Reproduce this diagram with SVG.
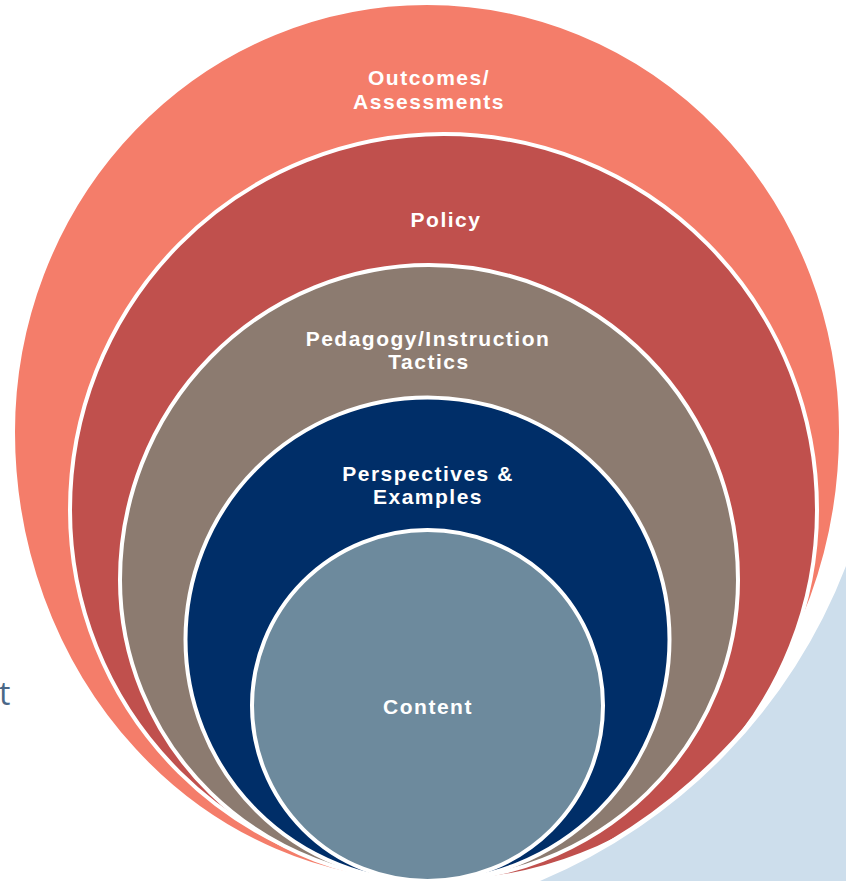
<svg xmlns="http://www.w3.org/2000/svg" width="846" height="881" viewBox="0 0 846 881">
<style>
.ring{stroke:#FFFFFF;stroke-width:4}
.lbl{font-family:"Liberation Sans",Arial,sans-serif;font-weight:bold;font-size:21px;letter-spacing:1.5px;fill:#FFFFFF;text-anchor:middle}
</style>
<rect x="0" y="0" width="846" height="881" fill="#FFFFFF"/>
<text x="-1" y="705" font-family="'Open Sans',sans-serif" font-size="32" fill="#4A6787">t</text>
<g id="outcomes">
<path class="ring" fill="#F47D6A" d="M13,432 A414 429 0 0 1 841,432 A414 450 0 0 1 13,432 Z"/>
<text class="lbl" x="429" y="85">Outcomes/</text>
<text class="lbl" x="429" y="109">Assessments</text>
</g>
<g id="policy">
<path class="ring" fill="#C0504D" d="M70,510 A373.5 376 0 0 1 817,510 A373.5 371 0 0 1 70,510 Z"/>
<text class="lbl" x="446" y="227">Policy</text>
</g>
<g id="pedagogy">
<path class="ring" fill="#8C7B70" d="M120,580 A309 315 0 0 1 738,580 A309 301 0 0 1 120,580 Z"/>
<text class="lbl" x="428" y="346">Pedagogy/Instruction</text>
<text class="lbl" x="429" y="369">Tactics</text>
</g>
<g id="perspectives">
<circle class="ring" fill="#002E68" cx="427.5" cy="639.5" r="242"/>
<text class="lbl" x="428" y="481">Perspectives &amp;</text>
<text class="lbl" x="428" y="504">Examples</text>
</g>
<g id="content">
<circle class="ring" fill="#6D8A9D" cx="427.5" cy="705.5" r="175.5"/>
<text class="lbl" x="428" y="714">Content</text>
</g>
<g id="backdrop">
<path d="M846,566 A559 559 0 0 1 540,881 L846,881 Z" fill="#CDDEEC" stroke="#FFFFFF" stroke-width="10" paint-order="stroke"/>
</g>
<g id="connectors"/>
</svg>
